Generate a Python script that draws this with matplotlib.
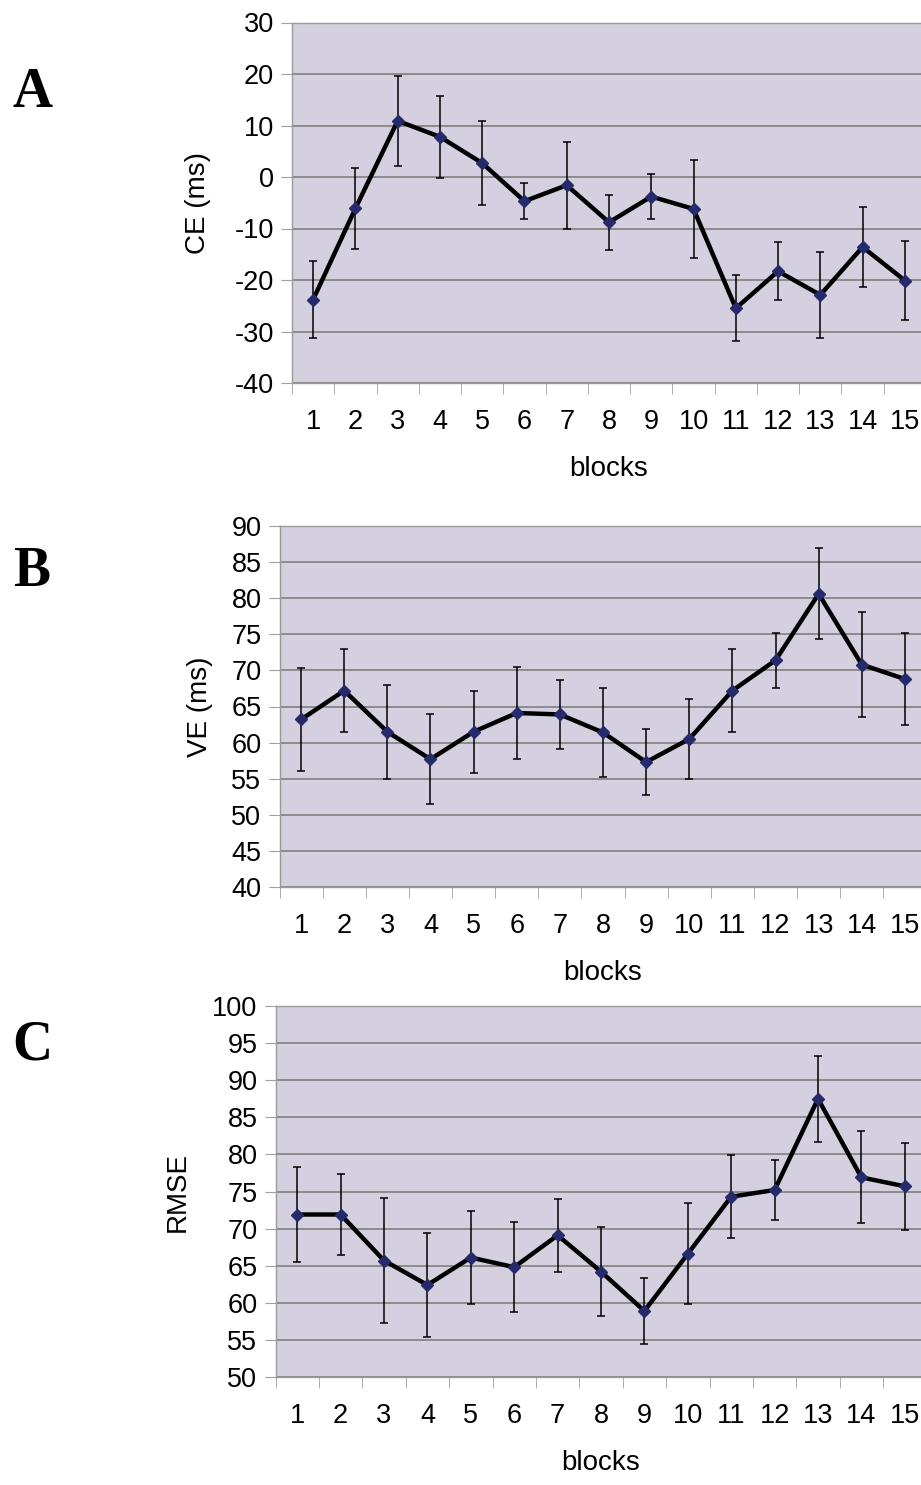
import numpy as np
import matplotlib.pyplot as plt

plt.rcParams['font.family'] = ['Liberation Sans', 'DejaVu Sans']
plt.rcParams['axes.unicode_minus'] = False

blocks = list(range(1, 16))

ce_mean = [-23.8, -6.1, 10.9, 7.8, 2.7, -4.7, -1.6, -8.8, -3.8, -6.2, -25.5, -18.3, -22.9, -13.6, -20.1]
ce_err = [7.5, 7.8, 8.7, 8.0, 8.2, 3.5, 8.4, 5.4, 4.4, 9.5, 6.4, 5.6, 8.3, 7.8, 7.6]

ve_mean = [63.2, 67.2, 61.5, 57.7, 61.5, 64.1, 63.9, 61.4, 57.3, 60.5, 67.2, 71.4, 80.6, 70.8, 68.8]
ve_err = [7.2, 5.8, 6.5, 6.2, 5.7, 6.4, 4.8, 6.1, 4.6, 5.5, 5.7, 3.8, 6.3, 7.3, 6.4]

rmse_mean = [71.9, 71.9, 65.7, 62.4, 66.1, 64.8, 69.1, 64.2, 58.9, 66.6, 74.3, 75.2, 87.5, 76.9, 75.7]
rmse_err = [6.4, 5.4, 8.4, 7.0, 6.3, 6.1, 4.9, 6.0, 4.4, 6.8, 5.6, 4.0, 5.8, 6.2, 5.9]

W, H = 921, 1485
fig = plt.figure(figsize=(W / 100, H / 100), dpi=100)

bg = '#d4d0e0'
grid_c = '#7f7f7f'

# (left, right, top, bottom) in pixels, data, ylabel, ylim, step, ylabel x, letter y
panels = [
    ((292, 926, 22.5, 383), ce_mean, ce_err, 'CE (ms)', (-40, 30), 10, -0.128, 93, 'A'),
    ((279.5, 926.5, 526, 887), ve_mean, ve_err, 'VE (ms)', (40, 90), 5, -0.103, 572, 'B'),
    ((275.5, 926.5, 1006, 1377), rmse_mean, rmse_err, 'RMSE', (50, 100), 5, -0.130, 1045, 'C'),
]

for (l, r, t, b), mean, err, ylab, ylim, step, lx, ly, letter in panels:
    ax = fig.add_axes([l / W, (H - b) / H, (r - l) / W, (b - t) / H])
    ax.set_facecolor(bg)
    ax.set_xlim(0.5, 15.5)
    ax.set_ylim(*ylim)
    ax.set_yticks(np.arange(ylim[0], ylim[1] + 1, step))
    ax.yaxis.grid(True, color=grid_c, lw=1.2)
    ax.set_axisbelow(True)
    ax.set_xticks(blocks)
    ax.set_xticks(np.arange(0.5, 16, 1), minor=True)
    ax.tick_params(axis='x', which='major', length=0, labelsize=19.5, pad=19)
    ax.tick_params(axis='x', which='minor', length=8, color='#a0a0a0', direction='out')
    ax.tick_params(axis='y', length=8, color='#a0a0a0', labelsize=19.5, pad=5)
    for s in ax.spines.values():
        s.set_color('#9a9a9a')
        s.set_linewidth(1)
    ax.errorbar(blocks, mean, yerr=err, fmt='none', ecolor='black', elinewidth=1.1,
                capsize=3, capthick=1.1, zorder=2)
    ax.plot(blocks, mean, color='black', lw=3.2, marker='D', ms=6.5,
            mfc='#252a6a', mec='#252a6a', zorder=3)
    ax.set_ylabel(ylab, fontsize=20)
    ax.yaxis.set_label_coords(lx, 0.5)
    ax.set_xlabel('blocks', fontsize=20, labelpad=15)
    fig.text(32 / W, 1 - ly / H, letter, fontsize=40, fontweight='bold',
             family=['Liberation Serif', 'DejaVu Serif'], ha='center', va='center')

fig.savefig('out.png', dpi=100)
